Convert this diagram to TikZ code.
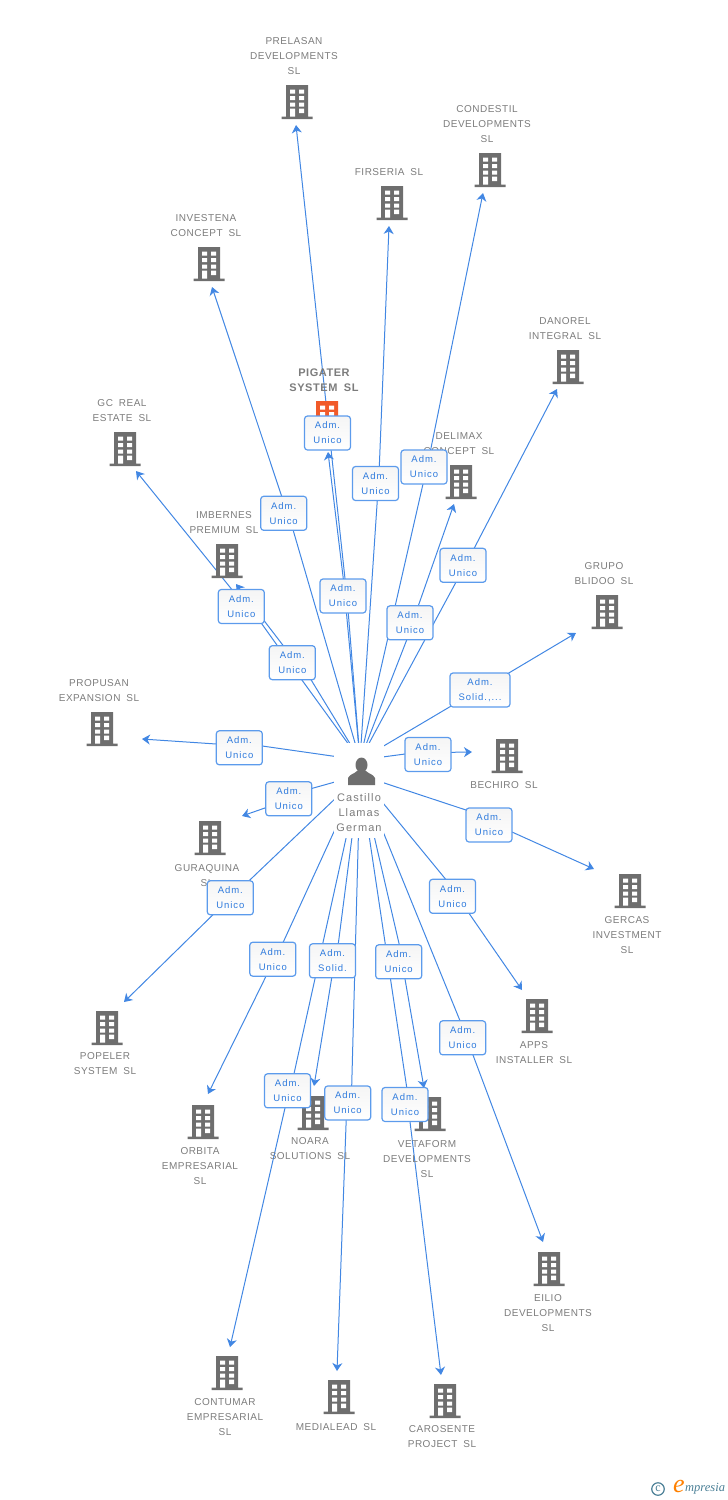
\documentclass[tikz,border=0pt]{standalone}
\usepackage{fontspec}
\usepackage{xcolor}
\usepackage{tikz}
\usetikzlibrary{arrows.meta,backgrounds}
\setmainfont[LetterSpace=5,WordSpace=1.8]{Liberation Sans}
\newfontfamily\admfont[LetterSpace=10]{Liberation Sans}
\newfontfamily\hubfont[LetterSpace=10]{Liberation Sans}
\newfontfamily\markfont{Liberation Serif}
\definecolor{ink}{HTML}{7C7C7C}
\definecolor{block}{HTML}{6E6E6E}
\definecolor{hot}{HTML}{F15A29}
\definecolor{wire}{HTML}{4287E3}
\definecolor{frame}{HTML}{5C9BEC}
\definecolor{admtext}{HTML}{2F7BDD}
\definecolor{markteal}{HTML}{4A7F96}
\tikzstyle{firmtext}=[text=ink,font=\fontsize{10}{15}\selectfont,align=center,inner sep=0pt]
\tikzstyle{adm}=[draw=frame,line width=1.2pt,rounded corners=3pt,top color=black!4,bottom color=white,text=admtext,minimum width=46pt,minimum height=34pt,inner sep=0pt,align=center,font=\admfont\fontsize{9.5}{15}\selectfont]
\tikzstyle{link}=[wire,line width=1pt,-{Stealth[length=8pt,width=10pt,inset=2.5pt]}]
\tikzstyle{hubbox}=[rectangle,fill=white,minimum width=50pt,minimum height=95pt,inner sep=0pt]
\tikzset{pics/tower/.style={code={
    \fill[#1] (-11,-17) rectangle (11,15) (-15.5,14.5) rectangle (15.5,17);
    \foreach \wy in {-12.5,-6,0.5}{
        \fill[white] (-7,\wy) rectangle (-2,\wy+4) (2,\wy) rectangle (7,\wy+4);
    }
    \fill[white] (-7,6.5) rectangle (-2,14.5) (2,6.5) rectangle (7,11);
}}}
\def\firm#1#2#3#4#5{\coordinate (#1) at (#2); \pic at (#3) {tower=block}; \node[firmtext] (#1txt) at (#4) {#5}}
\def\adm#1#2#3{\node[adm] (#1) at (#2) {Adm.\\#3}}
\def\link#1#2#3#4{\draw[link] (#2) -- ([shift={(#3)}]a#1.center) -- ([shift={(#4)}]a#1.center) -- (#1)}
\begin{document}
\begin{tikzpicture}[x=1pt,y=-1pt]
    \useasboundingbox (0,0) rectangle (728,1500);
    % companies
    \firm{prelasan}{296,125}{297,102}{294,56}{PRELASAN\\DEVELOPMENTS\\SL};
    \firm{condestil}{483,193}{490,170}{487,124}{CONDESTIL\\DEVELOPMENTS\\SL};
    \firm{firseria}{389,226}{392,203}{389,172}{FIRSERIA SL};
    \firm{investena}{212,287}{209,264}{206,226}{INVESTENA\\CONCEPT SL};
    \firm{danorel}{557,389}{568,367}{565,329}{DANOREL\\INTEGRAL SL};
    \firm{delimax}{454,504}{461,482}{459,444}{DELIMAX\\CONCEPT SL};
    \firm{gcreal}{136,471}{125,449}{122,411}{GC REAL\\ESTATE SL};
    \firm{imbernes}{236,584}{227,561}{224,523}{IMBERNES\\PREMIUM SL};
    \firm{grupo}{576,633}{607,612}{604,574}{GRUPO\\BLIDOO SL};
    \firm{propusan}{142,739}{102,729}{99,691}{PROPUSAN\\EXPANSION SL};
    \firm{bechiro}{472,752}{507,756}{504,785}{BECHIRO SL};
    \firm{guraquina}{242,816}{210,838}{207,876}{GURAQUINA\\SL};
    \firm{gercas}{594,869}{630,891}{627,935}{GERCAS\\INVESTMENT\\SL};
    \firm{apps}{522,990}{537,1016}{534,1053}{APPS\\INSTALLER SL};
    \firm{popeler}{124,1002}{107,1028}{105,1064}{POPELER\\SYSTEM SL};
    \firm{orbita}{208,1094}{203,1122}{200,1166}{ORBITA\\EMPRESARIAL\\SL};
    \firm{noara}{314,1086}{313,1113}{310,1149}{NOARA\\SOLUTIONS SL};
    \firm{vetaform}{424,1088}{430,1114}{427,1159}{VETAFORM\\DEVELOPMENTS\\SL};
    \firm{eilio}{543,1242}{549,1269}{548,1313}{EILIO\\DEVELOPMENTS\\SL};
    \firm{contumar}{230,1347}{227,1373}{225,1417}{CONTUMAR\\EMPRESARIAL\\SL};
    \firm{medialead}{337,1371}{339,1397}{336,1427}{MEDIALEAD SL};
    \firm{carosente}{441,1375}{445,1401}{442,1437}{CAROSENTE\\PROJECT SL};
    % the one in orange
    \coordinate (pigater) at (328,452);
    \pic at (327,418) {tower=hot};
    \node[firmtext,font=\bfseries\fontsize{11}{15}\selectfont] (pigatertxt) at (324,380) {PIGATER\\SYSTEM SL};
    % person
    \node[hubbox] (hub) at (359,790.5) {};
    \coordinate (hubc) at (360,775);
    \coordinate (hubt) at (360,760);
    \fill[block] (361.5,765) ellipse (6 and 7.5);
    \fill[block] (348,785) -- (348,778) .. controls (350,774) and (354,774) .. (357,771) -- (366,771) .. controls (369,774) and (373,774) .. (375,778) -- (375,785) -- cycle;
    \node[firmtext,font=\hubfont\fontsize{11}{15}\selectfont] (hubtxt) at (359,813) {Castillo\\Llamas\\German};
    % roles
    \adm{apigater}{327.5,433}{Unico};
    \adm{aprelasan}{343,596}{Unico};
    \adm{acondestil}{424,467}{Unico};
    \adm{afirseria}{375.5,483.5}{Unico};
    \adm{ainvestena}{283.7,513.3}{Unico};
    \adm{adanorel}{463,565.3}{Unico};
    \adm{adelimax}{410,622.8}{Unico};
    \adm{agcreal}{241.3,606.5}{Unico};
    \adm{aimbernes}{292.3,662.7}{Unico};
    \node[adm,minimum width=60pt] (agrupo) at (480,690) {Adm.\\Solid.,...};
    \adm{apropusan}{239.3,747.8}{Unico};
    \adm{abechiro}{428,754.5}{Unico};
    \adm{aguraquina}{288.8,798.8}{Unico};
    \adm{agercas}{489,825}{Unico};
    \adm{aapps}{452.5,896.3}{Unico};
    \adm{apopeler}{230.3,897.8}{Unico};
    \adm{aorbita}{272.8,959.2}{Unico};
    \adm{anoara}{332.5,960.8}{Solid.};
    \adm{avetaform}{398.7,961.8}{Unico};
    \adm{aeilio}{462.7,1037.8}{Unico};
    \adm{acontumar}{287.5,1090.8}{Unico};
    \adm{amedialead}{347.7,1103}{Unico};
    \adm{acarosente}{405,1104.5}{Unico};
    % connectors
    \begin{scope}[on background layer]
        \draw[link] (hubt) -- ([shift={(0.3,-17.3)}]aprelasan.center) -- (pigater);
        \link{prelasan}{hubt}{5.3,17.3}{2,-17.3};
        \link{condestil}{hubt}{-1,17}{6.7,-17.5};
        \link{firseria}{hubt}{1.8,16.8}{3.8,-16.8};
        \link{investena}{hubt}{9.6,17.4}{-2,-17};
        \link{danorel}{hubt}{-7.3,17.4}{11.3,-17.3};
        \link{delimax}{hubt}{-3.3,17.2}{8.3,-17};
        \draw[link] (hubt) -- ([shift={(9.4,17)}]aimbernes.center) -- ([shift={(20.4,17.2)}]agcreal.center) -- ([shift={(-9.6,-17.2)}]agcreal.center) -- (gcreal);
        \link{imbernes}{hubt}{18.7,17}{-9,-17};
        \link{grupo}{hubt}{-30,16.7}{29.3,-17.3};
        \link{propusan}{hubt}{23,-1.8}{-23,-3.8};
        \link{bechiro}{hubt}{-23,-0.5}{23,-2.2};
        \link{guraquina}{hubc}{23.5,-10.5}{-23.1,8.9};
        \link{gercas}{hubc}{-23,-15}{23,7};
        \link{apps}{hubc}{-6.8,-17}{16.5,17};
        \link{popeler}{hubc}{18.7,-17}{-17.6,17.2};
        \link{orbita}{hubc}{10.5,-17.2}{-6.8,17.1};
        \link{noara}{hubc}{5.8,-17.1}{-0.8,17.2};
        \link{vetaform}{hubc}{0.6,-17.1}{6.3,17.2};
        \link{eilio}{hubc}{-2.7,-17.1}{10.3,17.2};
        \link{contumar}{hubc}{6.5,-17.1}{-2.5,17.2};
        \link{medialead}{hubc}{4,-17}{-1.5,17};
        \link{carosente}{hubc}{1.7,-17.2}{5,17.2};
    \end{scope}
    % mark
    \node[circle,draw=markteal,line width=1.2pt,text=markteal,minimum size=12.5pt,inner sep=0pt,font=\markfont\fontsize{12}{12}\selectfont] (markc) at (658,1489) {c};
    \node[text=orange,inner sep=0pt,font=\markfont\itshape\fontsize{26}{26}\selectfont] (marke) at (679,1486) {e};
    \node[text=markteal,inner sep=0pt,anchor=west,font=\markfont\itshape\fontsize{12.5}{13}\selectfont] (markt) at (685,1489) {mpresia};
\end{tikzpicture}
\end{document}
